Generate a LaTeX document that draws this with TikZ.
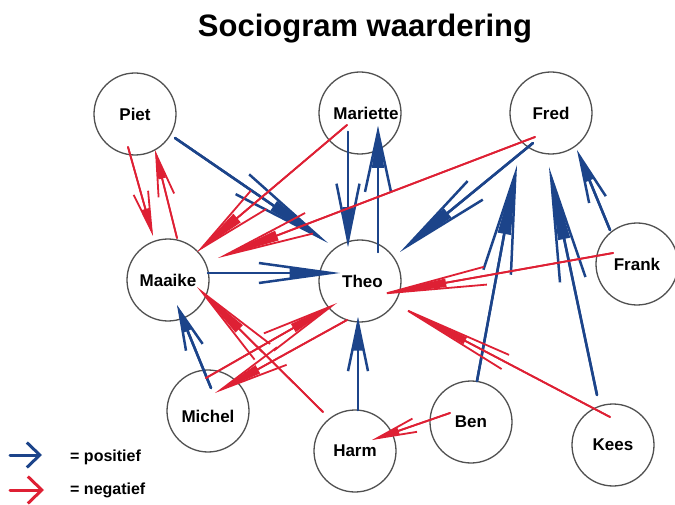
\documentclass[tikz,border=0pt]{standalone}
\usepackage{fontspec}
\setmainfont{Liberation Sans}
\usetikzlibrary{arrows.meta}
\definecolor{posblue}{RGB}{28,68,138}
\definecolor{negred}{RGB}{222,32,52}
\definecolor{ringgray}{RGB}{80,80,80}
\begin{document}
\begin{tikzpicture}[x=1pt,y=-1pt,
  person/.style={circle, draw=ringgray, line width=1.3pt, minimum size=82pt, inner sep=0pt,
    font=\fontsize{17}{20}\selectfont\bfseries},
  goodarr/.style 2 args={draw=posblue, line width=2.5pt, line cap=round,
    -{Straight Barb[length=#1pt,width=#2pt]},
    postaction={draw=posblue, -{Triangle[length=#1pt,width=#2pt,scale length=0.7,scale width=0.45]}}},
  badarr/.style 2 args={draw=negred, line width=1.8pt, line cap=round,
    -{Straight Barb[length=#1pt,width=#2pt]},
    postaction={draw=negred, -{Triangle[length=#1pt,width=#2pt,scale length=0.7,scale width=0.45]}}},
  legendtext/.style={anchor=west, font=\fontsize{16}{19}\selectfont\bfseries, inner sep=0pt}]
\useasboundingbox (0,0) rectangle (675,505);

\node[anchor=base, font=\fontsize{31}{36}\selectfont\bfseries] (title) at (365,37) {Sociogram waardering};

\node[person] (piet) at (135,114) {Piet};
\node[person] (mariette) at (360,113) {\hspace*{12pt}Mariette};
\node[person] (fred) at (551,113) {Fred};
\node[person] (maaike) at (168,280) {Maaike};
\node[person] (theo) at (360,281) {\hspace*{5pt}Theo};
\node[person] (frank) at (637,264) {Frank};
\node[person] (michel) at (208,411) {\rule{0pt}{24pt}Michel};
\node[person] (harm) at (355,451) {Harm};
\node[person] (ben) at (471,422) {Ben};
\node[person] (kees) at (613,445) {Kees};

% positive (blue)
\draw[goodarr={94}{24}] ([shift={(40,24)}]piet.center) -- ([shift={(-32,-38)}]theo.center);
\draw[goodarr={72}{20}] ([shift={(40,-7)}]maaike.center) -- ([shift={(-20,-8)}]theo.center);
\draw[goodarr={57}{23}] ([shift={(-12,19)}]mariette.center) -- ([shift={(-12,-34)}]theo.center);
\draw[goodarr={60}{26}] ([shift={(18,-29)}]theo.center) -- ([shift={(18,13)}]mariette.center);
\draw[goodarr={88}{24}] ([shift={(-18,30)}]fred.center) -- ([shift={(40,-29)}]theo.center);
\draw[goodarr={100}{28}] ([shift={(6,-41)}]ben.center) -- ([shift={(-34,52)}]fred.center);
\draw[goodarr={105}{26}] ([shift={(-16,-50)}]kees.center) -- ([shift={(-2,54)}]fred.center);
\draw[goodarr={47}{18}] ([shift={(-27,-34)}]frank.center) -- ([shift={(26,37)}]fred.center);
\draw[goodarr={48}{20}] ([shift={(3,-41)}]harm.center) -- ([shift={(-2,36)}]theo.center);
\draw[goodarr={40}{18}] ([shift={(3,-23)}]michel.center) -- ([shift={(9,25)}]maaike.center);

% negative (red)
\draw[badarr={40}{15}] ([shift={(-7,33)}]piet.center) -- ([shift={(-15,-44)}]maaike.center);
\draw[badarr={42}{16}] ([shift={(9,-42)}]maaike.center) -- ([shift={(20,36)}]piet.center);
\draw[badarr={75}{24}] ([shift={(-13,12)}]mariette.center) -- ([shift={(29,-28)}]maaike.center);
\draw[badarr={90}{22}] ([shift={(-16,24)}]fred.center) -- ([shift={(50,-22)}]maaike.center);
\draw[badarr={100}{18}] ([shift={(-24,-11)}]frank.center) -- ([shift={(17,14)}]theo.center);
\draw[badarr={110}{16}] ([shift={(-3,-28)}]kees.center) -- ([shift={(37,24)}]theo.center);
\draw[badarr={72}{20}] ([shift={(-2,-33)}]michel.center) -- ([shift={(-23,22)}]theo.center);
\draw[badarr={70}{20}] ([shift={(-13,39)}]theo.center) -- ([shift={(7,-18)}]michel.center);
\draw[badarr={85}{22}] ([shift={(-32,-39)}]harm.center) -- ([shift={(29,7)}]maaike.center);
\draw[badarr={40}{14}] ([shift={(-21,-9)}]ben.center) -- ([shift={(17,-11)}]harm.center);

% legend
\coordinate (lgpa) at (10,455);
\coordinate (lgpb) at (42,455);
\coordinate (lgna) at (10,490);
\coordinate (lgnb) at (44,490);
\draw[draw=posblue, line width=3pt, line cap=round, -{Straight Barb[length=13pt,width=25pt]}] (lgpa) -- (lgpb);
\draw[draw=negred, line width=3pt, line cap=round, -{Straight Barb[length=14pt,width=27pt]}] (lgna) -- (lgnb);
\node[legendtext] (lgpt) at (70,457) {= positief};
\node[legendtext] (lgnt) at (70,490) {= negatief};
\end{tikzpicture}
\end{document}
